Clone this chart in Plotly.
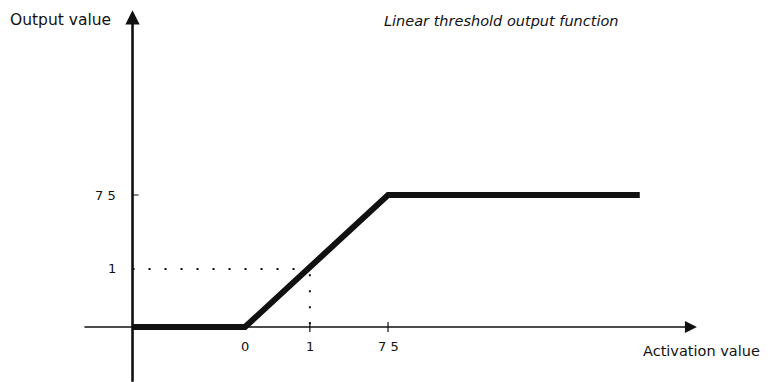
import plotly.graph_objects as go

# ---- data ----
activation = [-0.59, 0.0, 0.75, 2.07]
output = [0.0, 0.0, 0.75, 0.75]

x_tick_vals = [0.34, 0.75]
x_label_vals = [0.0, 0.34, 0.75]
x_label_text = ["0", "1", "7 5"]

y_tick_vals = [0.75]
y_label_vals = [0.33, 0.75]
y_label_text = ["1", "7 5"]

marked_x = 0.34
marked_y = 0.33

y_axis_x = -0.59
x_axis_extent = [-0.85, 2.37]
y_axis_extent = [-0.32, 1.80]

X_RANGE = [-1.243, 2.774]
Y_RANGE = [-0.3125, 1.8125]

W, H = 766, 374  # page body has an 8px default margin

FONT = "DejaVu Sans"
INK = "#111111"

fig = go.Figure()

# thick threshold function
fig.add_trace(go.Scatter(x=activation, y=output, mode="lines",
                         line=dict(color=INK, width=6),
                         hoverinfo="skip", showlegend=False))

# dotted guide lines
fig.add_trace(go.Scatter(x=[y_axis_x, marked_x - 0.02], y=[marked_y, marked_y], mode="lines",
                         line=dict(color=INK, width=2, dash="2px,14px"),
                         hoverinfo="skip", showlegend=False))
fig.add_trace(go.Scatter(x=[marked_x, marked_x], y=[marked_y - 0.03, 0], mode="lines",
                         line=dict(color=INK, width=2, dash="2px,14px"),
                         hoverinfo="skip", showlegend=False))

annotations = []
# axes with arrowheads
annotations.append(dict(x=x_axis_extent[1], y=0, ax=x_axis_extent[0], ay=0,
                        xref="x", yref="y", axref="x", ayref="y", text="",
                        showarrow=True, arrowhead=2, arrowsize=1.5, arrowwidth=1.6,
                        arrowcolor=INK))
annotations.append(dict(x=y_axis_x, y=y_axis_extent[1], ax=y_axis_x, ay=y_axis_extent[0],
                        xref="x", yref="y", axref="x", ayref="y", text="",
                        showarrow=True, arrowhead=2, arrowsize=1.1, arrowwidth=2.6,
                        arrowcolor=INK))

# tick labels
for v, t in zip(x_label_vals, x_label_text):
    annotations.append(dict(x=v, y=0, xref="x", yref="y", text=t, showarrow=False,
                            yshift=-19, xanchor="center", yanchor="middle",
                            font=dict(family=FONT, size=13, color=INK)))
for v, t in zip(y_label_vals, y_label_text):
    annotations.append(dict(x=y_axis_x, y=v, xref="x", yref="y", text=t, showarrow=False,
                            xshift=-15, xanchor="right", yanchor="middle",
                            font=dict(family=FONT, size=13, color=INK)))

# axis titles and chart title (positions in figure pixels)
annotations.append(dict(x=0, y=1 - 12 / H, xref="paper", yref="paper",
                        text="Output value", showarrow=False, xanchor="left", yanchor="middle",
                        font=dict(family=FONT, size=15.5, color=INK)))
annotations.append(dict(x=493 / W, y=1 - 13 / H, xref="paper", yref="paper",
                        text="<i>Linear threshold output function</i>", showarrow=False,
                        xanchor="center", yanchor="middle",
                        font=dict(family=FONT, size=14.5, color=INK)))
annotations.append(dict(x=(W - 12) / W, y=1 - 343 / H, xref="paper", yref="paper",
                        text="Activation value", showarrow=False, xanchor="right", yanchor="middle",
                        font=dict(family=FONT, size=14.5, color=INK)))

shapes = []
for v in x_tick_vals:
    shapes.append(dict(type="line", xref="x", yref="y", x0=v, x1=v,
                       ysizemode="pixel", yanchor=0, y0=-5, y1=5,
                       line=dict(color=INK, width=1.2)))
for v in y_tick_vals:
    shapes.append(dict(type="line", xref="x", yref="y", y0=v, y1=v,
                       xsizemode="pixel", xanchor=y_axis_x, x0=0, x1=6,
                       line=dict(color=INK, width=1)))

fig.update_layout(
    width=W, height=H,
    margin=dict(l=0, r=0, t=0, b=0),
    paper_bgcolor="white", plot_bgcolor="white",
    xaxis=dict(range=X_RANGE, visible=False, fixedrange=True),
    yaxis=dict(range=Y_RANGE, visible=False, fixedrange=True),
    annotations=annotations,
    shapes=shapes,
    showlegend=False,
)

fig.write_html("out.html")
